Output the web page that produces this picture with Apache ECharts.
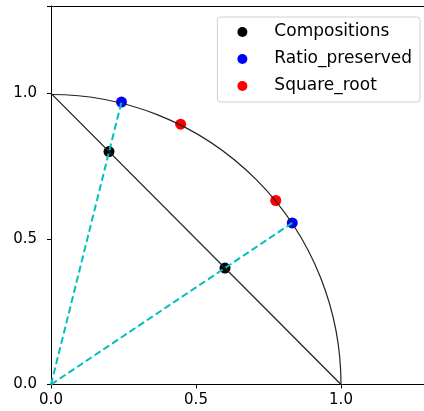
<!DOCTYPE html>
<html>
<head>
<meta charset="utf-8">
<script src="https://cdn.jsdelivr.net/npm/echarts@6/dist/echarts.min.js"></script>
<style>
  html, body { margin: 0; padding: 0; background: #fff; }
  #chart { width: 424px; height: 411px; }
</style>
</head>
<body>
<div id="chart"></div>
<script>
// points
const compositions = [[0.2, 0.8], [0.6, 0.4]]
const ratioPreserved = [[0.243, 0.970], [0.832, 0.555]]
const squareRoot = [[0.447, 0.894], [0.775, 0.632]]
// simplex line and the unit circle quarter
const simplexLine = [[0, 1], [1, 0]]
const arcCenter = [0, 0]
const arcRadius = 1
const origin = [0, 0]
const xTicks = [0, 0.5, 1.0]
const yTicks = [0, 0.5, 1.0]

const chart = echarts.init(document.getElementById('chart'))
const font = 'DejaVu Sans'

const dashStyle = { color: '#00bfbf', width: 2, type: [7, 3.5] }

const option = {
  animation: false,
  grid: { left: 51, width: 377, top: 6, height: 378.5, outerBoundsMode: 'none' },
  xAxis: {
    type: 'value', min: 0, max: 1.3, interval: 0.5,
    axisLine: { onZero: false, lineStyle: { color: '#000', width: 1 } },
    axisTick: { show: true, length: 4, lineStyle: { color: '#000' } },
    splitLine: { show: false },
    axisLabel: {
      color: '#000', fontFamily: font, fontSize: 15, margin: 8,
      formatter: v => xTicks.indexOf(v) >= 0 ? v.toFixed(1) : ''
    }
  },
  yAxis: {
    type: 'value', min: 0, max: 1.3, interval: 0.5,
    axisLine: { show: true, onZero: false, lineStyle: { color: '#000', width: 1 } },
    axisTick: { show: true, length: 4, lineStyle: { color: '#000' } },
    splitLine: { show: false },
    axisLabel: {
      color: '#000', fontFamily: font, fontSize: 15, margin: 14,
      formatter: v => yTicks.indexOf(v) >= 0 ? v.toFixed(1) : ''
    }
  },
  legend: {
    right: 4, top: 17,
    orient: 'vertical',
    itemGap: 10,
    itemWidth: 10, itemHeight: 10,
    padding: [6.5, 8, 7.5, 20],
    borderColor: '#d0d0d0', borderWidth: 1, borderRadius: 3,
    textStyle: { fontFamily: font, fontSize: 17, color: '#000', padding: [0, 0, 0, 22] },
    data: [
      { name: 'Compositions', icon: 'circle' },
      { name: 'Ratio_preserved', icon: 'circle' },
      { name: 'Square_root', icon: 'circle' }
    ]
  },
  series: [
    {
      name: 'Compositions', type: 'scatter', z: 1, symbolSize: 11,
      itemStyle: { color: '#000', opacity: 1 }, data: compositions
    },
    {
      name: 'Ratio_preserved', type: 'scatter', z: 1, symbolSize: 11,
      itemStyle: { color: '#0000ff', opacity: 1 }, data: ratioPreserved
    },
    {
      name: 'Square_root', type: 'scatter', z: 1, symbolSize: 11,
      itemStyle: { color: '#ff0000', opacity: 1 }, data: squareRoot
    },
    {
      type: 'line', z: 3, symbol: 'none', silent: true,
      lineStyle: { color: '#222', width: 1.3 }, data: simplexLine
    },
    {
      type: 'custom', z: 3, silent: true,
      data: [[arcCenter[0], arcCenter[1], arcRadius]],
      renderItem: (params, api) => {
        const c = api.coord([api.value(0), api.value(1)])
        const r = api.size([api.value(2), api.value(2)])[0]
        return {
          type: 'arc',
          shape: { cx: c[0], cy: c[1], r: r, startAngle: -Math.PI / 2, endAngle: 0, clockwise: true },
          style: { stroke: '#222', lineWidth: 1.2, fill: null }
        }
      }
    },
    {
      type: 'line', z: 3, symbol: 'none', silent: true,
      lineStyle: dashStyle, data: [origin, ratioPreserved[0]]
    },
    {
      type: 'line', z: 3, symbol: 'none', silent: true,
      lineStyle: dashStyle, data: [origin, ratioPreserved[1]]
    }
  ],
  graphic: [
    {
      // top spine
      type: 'line', z: 10,
      shape: { x1: 51, y1: 6.5, x2: 424, y2: 6.5 },
      style: { stroke: '#000', lineWidth: 1 }
    }
  ]
}

chart.setOption(option)
</script>
</body>
</html>
